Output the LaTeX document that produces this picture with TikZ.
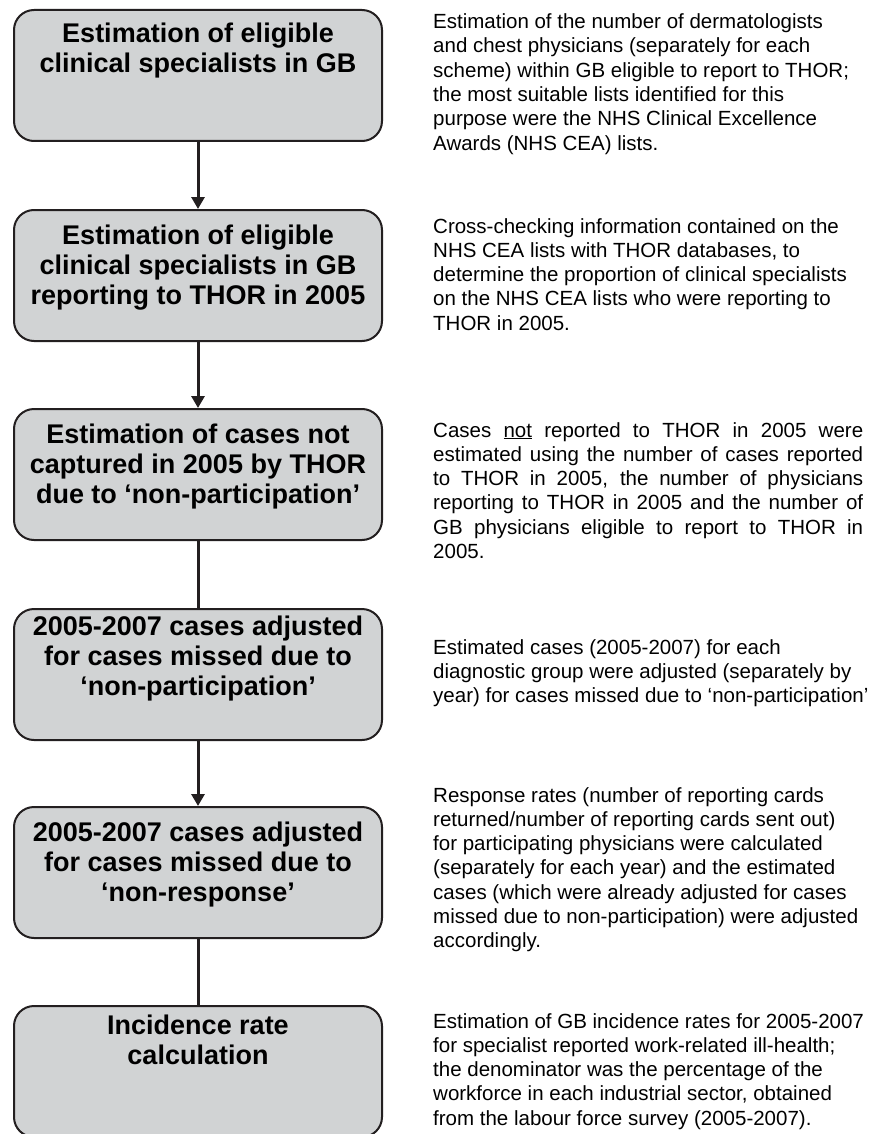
\documentclass[tikz,border=0pt]{standalone}
\usepackage{fontspec}
\setmainfont{Liberation Sans}
\usepackage{tikz}
\usetikzlibrary{arrows.meta,positioning}
\definecolor{boxgray}{HTML}{D1D3D4}
\definecolor{edgeblack}{HTML}{231F20}
\newcommand{\jline}[1]{\makebox[430pt][s]{#1}}

\begin{document}
\begin{tikzpicture}[x=1pt,y=-1pt,
    stagebox/.style={draw=edgeblack, line width=2pt, fill=boxgray, rounded corners=20pt,
        minimum width=368pt, minimum height=131pt, anchor=north},
    stagetext/.style={align=center, inner sep=0pt, anchor=north,
        font=\fontsize{27}{30}\selectfont\bfseries},
    notetext/.style={align=left, inner sep=0pt, anchor=north west,
        font=\fontsize{20.5}{24.3}\selectfont},
    flowarrow/.style={line width=3pt, draw=edgeblack, -{Triangle[width=13pt,length=12pt]}},
    flowline/.style={line width=3pt, draw=edgeblack}]

    \def\boxx{198} % centre line of the boxes
    \def\notex{433} % left edge of the notes

    % Fix page size
    \useasboundingbox (0,0) rectangle (870,1134);

    % Define stage boxes
    \node[stagebox] (s1) at (\boxx,9) {};
    \node[stagebox] (s2) at (\boxx,209) {};
    \node[stagebox] (s3) at (\boxx,408) {};
    \node[stagebox] (s4) at (\boxx,608) {};
    \node[stagebox] (s5) at (\boxx,806) {};
    \node[stagebox] (s6) at (\boxx,1005) {};

    % Define stage texts, hung from the top of each box
    \node[stagetext, below=14pt of s1.north] (t1) {Estimation of eligible\\clinical specialists in GB};
    \node[stagetext, below=16pt of s2.north] (t2) {Estimation of eligible\\clinical specialists in GB\\reporting to THOR in 2005};
    \node[stagetext, below=16pt of s3.north] (t3) {Estimation of cases not\\captured in 2005 by THOR\\due to ‘non-participation’};
    \node[stagetext, below=8pt of s4.north] (t4) {2005-2007 cases adjusted\\for cases missed due to\\‘non-participation’};
    \node[stagetext, below=16pt of s5.north] (t5) {2005-2007 cases adjusted\\for cases missed due to\\‘non-response’};
    \node[stagetext, below=10pt of s6.north] (t6) {Incidence rate\\calculation};

    % Define connectors
    \draw[flowarrow] (s1) -- (s2);
    \draw[flowarrow] (s2) -- (s3);
    \draw[flowline] (s3) -- (s4);
    \draw[flowarrow] (s4) -- (s5);
    \draw[flowline] (s5) -- (s6);

    % Define notes beside the boxes
    \node[notetext] (d1) at (\notex,13.5) {Estimation of the number of dermatologists\\and chest physicians (separately for each\\scheme) within GB eligible to report to THOR;\\the most suitable lists identified for this\\purpose were the NHS Clinical Excellence\\Awards (NHS CEA) lists.};
    \node[notetext] (d2) at (\notex,218) {Cross-checking information contained on the\\NHS CEA lists with THOR databases, to\\determine the proportion of clinical specialists\\on the NHS CEA lists who were reporting to\\THOR in 2005.};
    \node[notetext] (d3) at (\notex,422) {\jline{Cases \underline{not} reported to THOR in 2005 were}\\\jline{estimated using the number of cases reported}\\\jline{to THOR in 2005, the number of physicians}\\\jline{reporting to THOR in 2005 and the number of}\\\jline{GB physicians eligible to report to THOR in}\\2005.};
    \node[notetext] (d4) at (\notex,639) {Estimated cases (2005-2007) for each\\diagnostic group were adjusted (separately by\\year) for cases missed due to ‘non-participation’};
    \node[notetext] (d5) at (\notex,787) {Response rates (number of reporting cards\\returned/number of reporting cards sent out)\\for participating physicians were calculated\\(separately for each year) and the estimated\\cases (which were already adjusted for cases\\missed due to non-participation) were adjusted\\accordingly.};
    \node[notetext] (d6) at (\notex,1013) {Estimation of GB incidence rates for 2005-2007\\for specialist reported work-related ill-health;\\the denominator was the percentage of the\\workforce in each industrial sector, obtained\\from the labour force survey (2005-2007).};
\end{tikzpicture}
\end{document}
